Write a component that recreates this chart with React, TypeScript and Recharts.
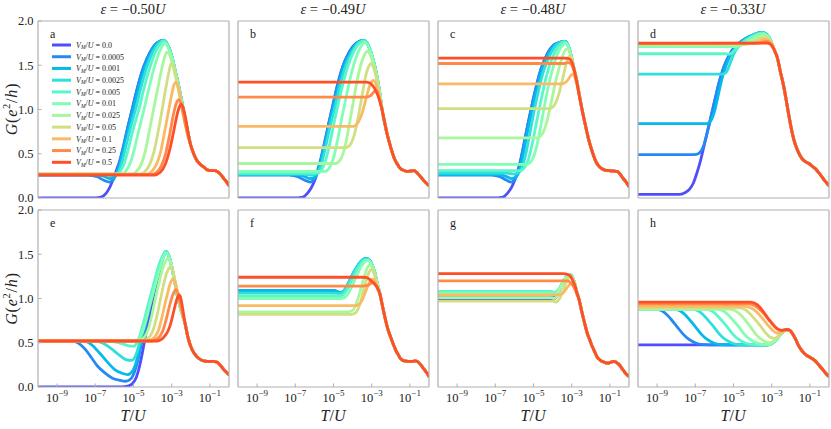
import React from 'react';
import { LineChart, Line, XAxis, YAxis } from 'recharts';

type P = [number, number][];

const VM_LABELS = ['0.0', '0.0005', '0.001', '0.0025', '0.005', '0.01', '0.025', '0.05', '0.1', '0.25', '0.5'];
const COLORS = ['#4d4ffc', '#2489f5', '#05baea', '#2edfdb', '#57f7c9', '#80ffb4', '#a8f79c', '#d1df82', '#faba65', '#ff8947', '#ff4f28'];
const EPS_TITLES = ['\u22120.50', '\u22120.49', '\u22120.48', '\u22120.33'];
const PANEL_LETTERS = ['a', 'b', 'c', 'd', 'e', 'f', 'g', 'h'];
const X_TICKS = [-9, -7, -5, -3, -1];
const Y_TICKS = [0, 0.5, 1, 1.5, 2];

// ---------- panel a ----------
const A_PATH: P = [[-3.15,1.7],[-2.95,1.56],[-2.8,1.42],[-2.68,1.31],[-2.5,1.12],[-2.33,0.93],[-2.18,0.77],[-2.02,0.61],[-1.85,0.5],[-1.67,0.42],[-1.5,0.38],[-1.32,0.35],[-1.15,0.32],[-0.97,0.31],[-0.75,0.31],[-0.62,0.3],[-0.45,0.27],[-0.27,0.22],[-0.12,0.18],[0,0.14]];
const A_HEADS: P[] = [
  [[-10,0],[-7.0,0],[-6.7,0.01],[-6.45,0.05],[-6.22,0.13],[-6.02,0.24],[-5.85,0.34],[-5.72,0.42],[-5.55,0.56],[-5.33,0.77],[-5.07,1.0],[-4.8,1.24],[-4.47,1.48],[-4.12,1.65],[-3.78,1.75],[-3.43,1.78]],
  [[-10,0.26],[-7.4,0.26],[-6.9,0.24],[-6.55,0.2],[-6.25,0.18],[-6.05,0.21],[-5.88,0.3],[-5.72,0.41],[-5.55,0.56],[-5.33,0.77],[-5.07,1.0],[-4.8,1.24],[-4.47,1.48],[-4.12,1.65],[-3.78,1.75],[-3.43,1.78]],
  [[-10,0.262],[-7.0,0.262],[-6.6,0.25],[-6.25,0.22],[-6.0,0.23],[-5.82,0.31],[-5.65,0.43],[-5.48,0.58],[-5.26,0.78],[-5.0,1.0],[-4.73,1.24],[-4.4,1.48],[-4.06,1.65],[-3.74,1.75],[-3.42,1.78]],
  [[-10,0.265],[-6.6,0.265],[-6.2,0.255],[-5.92,0.26],[-5.75,0.31],[-5.57,0.43],[-5.39,0.59],[-5.16,0.79],[-4.89,1.0],[-4.62,1.24],[-4.3,1.48],[-3.98,1.65],[-3.68,1.75],[-3.41,1.78]],
  [[-10,0.27],[-5.9,0.27],[-5.7,0.3],[-5.5,0.38],[-5.3,0.53],[-5.05,0.75],[-4.72,1.0],[-4.45,1.24],[-4.15,1.47],[-3.85,1.65],[-3.6,1.74],[-3.4,1.775]],
  [[-10,0.27],[-5.65,0.27],[-5.42,0.3],[-5.2,0.38],[-4.98,0.53],[-4.75,0.74],[-4.45,1.0],[-4.18,1.25],[-3.92,1.47],[-3.68,1.63],[-3.48,1.72],[-3.33,1.75],[-3.18,1.7]],
  [[-10,0.27],[-5.1,0.27],[-4.85,0.3],[-4.6,0.38],[-4.38,0.53],[-4.17,0.76],[-3.95,1.0],[-3.72,1.25],[-3.52,1.46],[-3.36,1.6],[-3.24,1.65],[-3.1,1.61],[-2.95,1.5],[-2.8,1.37],[-2.65,1.22],[-2.5,1.05],[-2.35,0.88],[-2.18,0.74]],
  [[-10,0.27],[-4.65,0.27],[-4.4,0.3],[-4.15,0.38],[-3.92,0.53],[-3.7,0.76],[-3.5,1.0],[-3.32,1.23],[-3.15,1.42],[-3.03,1.52],[-2.92,1.5],[-2.8,1.4],[-2.65,1.24],[-2.5,1.06],[-2.35,0.89],[-2.2,0.75]],
  [[-10,0.27],[-4.3,0.27],[-4.05,0.3],[-3.8,0.38],[-3.58,0.52],[-3.38,0.74],[-3.15,1.0],[-3.0,1.17],[-2.88,1.28],[-2.8,1.31],[-2.72,1.29],[-2.6,1.2],[-2.47,1.05],[-2.34,0.9],[-2.2,0.76]],
  [[-10,0.265],[-4.05,0.265],[-3.8,0.29],[-3.55,0.36],[-3.32,0.5],[-3.12,0.7],[-2.95,0.9],[-2.85,1.0],[-2.74,1.08],[-2.63,1.11],[-2.54,1.08],[-2.42,0.98],[-2.28,0.83],[-2.15,0.7]],
  [[-10,0.26],[-3.9,0.26],[-3.6,0.29],[-3.32,0.39],[-3.1,0.55],[-2.89,0.76],[-2.72,0.94],[-2.6,1.03],[-2.5,1.06],[-2.4,1.02],[-2.28,0.91],[-2.15,0.75]],
];

// ---------- panel b ----------
const B_PATH: P = [[-3.15,1.71],[-2.95,1.58],[-2.8,1.45],[-2.68,1.32],[-2.56,1.16],[-2.45,0.99],[-2.3,0.83],[-2.19,0.72],[-2.0,0.57],[-1.84,0.46],[-1.65,0.38],[-1.49,0.33],[-1.3,0.31],[-1.14,0.3],[-0.95,0.305],[-0.79,0.31],[-0.6,0.28],[-0.44,0.24],[-0.2,0.18],[0,0.14]];
const B_HEADS: P[] = [
  [[-10,0],[-6.9,0],[-6.6,0.01],[-6.38,0.05],[-6.18,0.11],[-6.0,0.19],[-5.82,0.3],[-5.65,0.44],[-5.45,0.64],[-5.25,0.84],[-5.05,1.03],[-4.82,1.25],[-4.52,1.48],[-4.17,1.65],[-3.8,1.75],[-3.43,1.78]],
  [[-10,0.26],[-7.3,0.26],[-6.85,0.24],[-6.5,0.2],[-6.22,0.18],[-6.02,0.21],[-5.85,0.3],[-5.67,0.44],[-5.45,0.64],[-5.25,0.84],[-5.05,1.03],[-4.82,1.25],[-4.52,1.48],[-4.17,1.65],[-3.8,1.75],[-3.43,1.78]],
  [[-10,0.265],[-7.0,0.265],[-6.6,0.25],[-6.25,0.22],[-6.0,0.23],[-5.8,0.31],[-5.62,0.45],[-5.4,0.65],[-5.2,0.85],[-5.0,1.03],[-4.76,1.25],[-4.46,1.48],[-4.1,1.65],[-3.75,1.75],[-3.42,1.78]],
  [[-10,0.27],[-6.6,0.27],[-6.2,0.26],[-5.92,0.27],[-5.73,0.32],[-5.55,0.45],[-5.34,0.65],[-5.13,0.85],[-4.92,1.03],[-4.68,1.25],[-4.38,1.48],[-4.03,1.65],[-3.7,1.75],[-3.41,1.78]],
  [[-10,0.28],[-5.85,0.28],[-5.65,0.31],[-5.45,0.4],[-5.24,0.57],[-5.02,0.8],[-4.8,1.02],[-4.55,1.25],[-4.26,1.48],[-3.95,1.65],[-3.64,1.75],[-3.4,1.775]],
  [[-10,0.3],[-5.45,0.3],[-5.22,0.34],[-5.0,0.45],[-4.78,0.66],[-4.55,0.92],[-4.3,1.18],[-4.05,1.42],[-3.8,1.6],[-3.57,1.71],[-3.35,1.76],[-3.18,1.72]],
  [[-10,0.39],[-4.9,0.39],[-4.65,0.43],[-4.42,0.56],[-4.2,0.8],[-3.97,1.08],[-3.75,1.34],[-3.52,1.54],[-3.35,1.63],[-3.23,1.66],[-3.1,1.63],[-2.95,1.54],[-2.8,1.41],[-2.68,1.29],[-2.56,1.15]],
  [[-10,0.57],[-4.35,0.57],[-4.1,0.61],[-3.88,0.74],[-3.66,0.97],[-3.45,1.22],[-3.27,1.42],[-3.12,1.5],[-3.03,1.52],[-2.93,1.49],[-2.8,1.4],[-2.68,1.28],[-2.56,1.14]],
  [[-10,0.81],[-3.95,0.81],[-3.72,0.85],[-3.5,0.96],[-3.3,1.12],[-3.12,1.26],[-2.98,1.32],[-2.9,1.33],[-2.8,1.3],[-2.68,1.22],[-2.56,1.1]],
  [[-10,1.14],[-3.35,1.14],[-3.1,1.15],[-2.95,1.18],[-2.83,1.21],[-2.74,1.21],[-2.65,1.16],[-2.56,1.09]],
  [[-10,1.31],[-3.3,1.31],[-3.1,1.3],[-2.95,1.27],[-2.8,1.22],[-2.68,1.16],[-2.56,1.08]],
];

// ---------- panel c ----------
const C_PATH: P = [[-3.15,1.7],[-3.0,1.58],[-2.88,1.46],[-2.71,1.3],[-2.58,1.14],[-2.45,0.99],[-2.28,0.82],[-2.1,0.65],[-1.92,0.52],[-1.75,0.42],[-1.58,0.36],[-1.41,0.33],[-1.25,0.315],[-1.06,0.31],[-0.85,0.305],[-0.62,0.3],[-0.47,0.27],[-0.3,0.22],[-0.15,0.18],[0,0.13]];
const C_HEADS: P[] = [
  [[-10,0],[-6.9,0],[-6.6,0.01],[-6.38,0.05],[-6.15,0.12],[-5.95,0.22],[-5.78,0.34],[-5.6,0.5],[-5.38,0.74],[-5.15,0.98],[-4.9,1.22],[-4.6,1.46],[-4.25,1.64],[-3.85,1.74],[-3.33,1.77]],
  [[-10,0.26],[-7.2,0.26],[-6.75,0.24],[-6.4,0.2],[-6.17,0.18],[-5.98,0.21],[-5.8,0.3],[-5.62,0.48],[-5.38,0.74],[-5.15,0.98],[-4.9,1.22],[-4.6,1.46],[-4.25,1.64],[-3.85,1.74],[-3.33,1.77]],
  [[-10,0.265],[-6.9,0.265],[-6.5,0.25],[-6.15,0.22],[-5.9,0.24],[-5.72,0.32],[-5.55,0.48],[-5.32,0.74],[-5.09,0.98],[-4.84,1.22],[-4.54,1.46],[-4.19,1.64],[-3.8,1.74],[-3.33,1.77]],
  [[-10,0.28],[-6.4,0.28],[-6.0,0.27],[-5.75,0.29],[-5.57,0.36],[-5.4,0.5],[-5.2,0.72],[-4.98,0.97],[-4.74,1.21],[-4.45,1.45],[-4.1,1.63],[-3.73,1.74],[-3.34,1.77]],
  [[-10,0.31],[-5.7,0.31],[-5.48,0.34],[-5.25,0.45],[-5.04,0.64],[-4.82,0.88],[-4.58,1.13],[-4.32,1.38],[-4.02,1.58],[-3.7,1.71],[-3.36,1.765]],
  [[-10,0.38],[-5.35,0.38],[-5.1,0.42],[-4.86,0.56],[-4.63,0.8],[-4.4,1.07],[-4.15,1.33],[-3.9,1.53],[-3.65,1.67],[-3.45,1.73],[-3.3,1.75],[-3.16,1.7]],
  [[-10,0.68],[-4.8,0.68],[-4.55,0.72],[-4.32,0.85],[-4.1,1.05],[-3.88,1.28],[-3.65,1.48],[-3.45,1.62],[-3.3,1.68],[-3.18,1.68],[-3.05,1.61],[-2.92,1.5],[-2.8,1.39],[-2.68,1.27],[-2.58,1.14]],
  [[-10,1.01],[-4.15,1.01],[-3.9,1.05],[-3.68,1.17],[-3.47,1.35],[-3.28,1.52],[-3.14,1.6],[-3.04,1.6],[-2.93,1.52],[-2.8,1.4],[-2.68,1.27],[-2.58,1.14]],
  [[-10,1.29],[-3.5,1.29],[-3.3,1.31],[-3.15,1.35],[-3.02,1.39],[-2.94,1.4],[-2.85,1.37],[-2.74,1.29],[-2.62,1.18]],
  [[-10,1.52],[-3.4,1.52],[-3.2,1.53],[-3.05,1.52],[-2.93,1.47],[-2.82,1.39],[-2.71,1.29],[-2.6,1.17]],
  [[-10,1.58],[-3.35,1.58],[-3.15,1.575],[-3.0,1.54],[-2.87,1.45],[-2.75,1.33],[-2.62,1.17]],
];

// ---------- panel d ----------
const D_PATH: P = [[-3.15,1.82],[-2.98,1.74],[-2.84,1.66],[-2.71,1.59],[-2.55,1.43],[-2.36,1.25],[-2.22,1.08],[-2.1,0.93],[-1.97,0.78],[-1.84,0.66],[-1.67,0.55],[-1.49,0.47],[-1.3,0.42],[-1.06,0.39],[-0.88,0.36],[-0.71,0.33],[-0.55,0.29],[-0.44,0.26],[-0.2,0.19],[0,0.14]];
const D_HEADS: P[] = [
  [[-10,0.04],[-7.85,0.04],[-7.55,0.06],[-7.3,0.1],[-7.1,0.17],[-6.92,0.28],[-6.73,0.42],[-6.55,0.58],[-6.38,0.74],[-6.2,0.9],[-6.03,1.06],[-5.85,1.22],[-5.68,1.36],[-5.5,1.48],[-5.3,1.58],[-5.1,1.66],[-4.85,1.72],[-4.55,1.77],[-4.25,1.81],[-3.9,1.85],[-3.55,1.87],[-3.35,1.86]],
  [[-10,0.49],[-7.05,0.49],[-6.85,0.5],[-6.7,0.53],[-6.55,0.6],[-6.42,0.7],[-6.28,0.82],[-6.12,0.97],[-5.96,1.12],[-5.8,1.27],[-5.63,1.4],[-5.45,1.51],[-5.26,1.6],[-5.06,1.67],[-4.83,1.73],[-4.53,1.78],[-4.23,1.82],[-3.88,1.85],[-3.53,1.87],[-3.34,1.86]],
  [[-10,0.84],[-6.45,0.84],[-6.27,0.85],[-6.12,0.9],[-5.98,0.99],[-5.84,1.12],[-5.7,1.26],[-5.55,1.39],[-5.38,1.5],[-5.2,1.6],[-5.0,1.67],[-4.78,1.73],[-4.5,1.78],[-4.2,1.82],[-3.85,1.85],[-3.52,1.87],[-3.33,1.86]],
  [[-10,1.4],[-5.6,1.4],[-5.44,1.41],[-5.3,1.45],[-5.16,1.53],[-5.0,1.62],[-4.82,1.69],[-4.6,1.74],[-4.35,1.79],[-4.05,1.83],[-3.75,1.86],[-3.48,1.87],[-3.3,1.855]],
  [[-10,1.63],[-5.45,1.63],[-5.25,1.625],[-5.08,1.64],[-4.9,1.68],[-4.7,1.73],[-4.45,1.77],[-4.15,1.81],[-3.85,1.84],[-3.6,1.86],[-3.4,1.86],[-3.26,1.84]],
  [[-10,1.71],[-4.95,1.71],[-4.72,1.715],[-4.5,1.74],[-4.25,1.78],[-3.95,1.82],[-3.65,1.85],[-3.45,1.855],[-3.28,1.84]],
  [[-10,1.73],[-4.55,1.73],[-4.28,1.745],[-4.0,1.78],[-3.72,1.82],[-3.48,1.84],[-3.3,1.835],[-3.18,1.81]],
  [[-10,1.74],[-4.25,1.74],[-3.98,1.755],[-3.7,1.79],[-3.45,1.815],[-3.28,1.81],[-3.15,1.79]],
  [[-10,1.745],[-3.95,1.745],[-3.68,1.765],[-3.43,1.79],[-3.26,1.79],[-3.12,1.77]],
  [[-10,1.745],[-3.65,1.75],[-3.42,1.765],[-3.25,1.77],[-3.1,1.75],[-2.98,1.71]],
  [[-10,1.75],[-3.25,1.75],[-3.08,1.74],[-2.95,1.71],[-2.84,1.66]],
];

// ---------- panel e ----------
const E_PATH: P = [[-3.15,1.48],[-3.0,1.36],[-2.85,1.2],[-2.7,1.03],[-2.55,0.9],[-2.42,0.8],[-2.3,0.72],[-2.15,0.56],[-1.95,0.43],[-1.67,0.34],[-1.4,0.3],[-1.14,0.29],[-0.85,0.29],[-0.62,0.28],[-0.4,0.23],[-0.2,0.18],[0,0.14]];
const E_HEADS: P[] = [
  [[-10,0],[-5.6,0],[-5.3,0.01],[-5.05,0.04],[-4.85,0.11],[-4.7,0.22],[-4.56,0.36],[-4.42,0.52],[-4.26,0.7],[-4.08,0.9],[-3.9,1.08],[-3.7,1.26],[-3.52,1.41],[-3.38,1.5],[-3.3,1.53]],
  [[-10,0.52],[-8.2,0.52],[-7.85,0.49],[-7.5,0.42],[-7.2,0.33],[-6.9,0.24],[-6.5,0.16],[-6.1,0.1],[-5.7,0.075],[-5.42,0.065],[-5.15,0.09],[-4.95,0.17],[-4.76,0.31],[-4.6,0.47],[-4.45,0.62],[-4.28,0.78],[-4.1,0.95],[-3.9,1.12],[-3.7,1.28],[-3.52,1.42],[-3.38,1.5],[-3.3,1.53]],
  [[-10,0.52],[-7.6,0.52],[-7.2,0.48],[-6.8,0.39],[-6.4,0.29],[-6.0,0.2],[-5.6,0.155],[-5.3,0.14],[-5.05,0.18],[-4.86,0.28],[-4.7,0.42],[-4.54,0.58],[-4.38,0.73],[-4.2,0.9],[-4.0,1.07],[-3.8,1.24],[-3.6,1.39],[-3.44,1.48],[-3.32,1.53]],
  [[-10,0.52],[-7.0,0.52],[-6.6,0.495],[-6.2,0.44],[-5.8,0.37],[-5.4,0.31],[-5.1,0.3],[-4.9,0.35],[-4.73,0.46],[-4.57,0.6],[-4.4,0.74],[-4.22,0.9],[-4.02,1.07],[-3.82,1.24],[-3.62,1.39],[-3.45,1.48],[-3.32,1.53]],
  [[-10,0.52],[-6.4,0.52],[-6.0,0.51],[-5.6,0.49],[-5.25,0.465],[-5.0,0.46],[-4.82,0.5],[-4.64,0.6],[-4.46,0.74],[-4.27,0.9],[-4.06,1.07],[-3.85,1.24],[-3.65,1.39],[-3.47,1.48],[-3.32,1.53]],
  [[-10,0.52],[-4.95,0.52],[-4.75,0.54],[-4.55,0.61],[-4.36,0.74],[-4.16,0.91],[-3.95,1.08],[-3.75,1.24],[-3.56,1.38],[-3.42,1.47],[-3.3,1.51],[-3.2,1.5]],
  [[-10,0.52],[-4.75,0.52],[-4.55,0.54],[-4.38,0.58],[-4.22,0.66],[-4.05,0.8],[-3.86,0.99],[-3.66,1.18],[-3.48,1.33],[-3.32,1.42],[-3.2,1.45],[-3.06,1.41],[-2.92,1.28],[-2.78,1.12],[-2.62,0.96],[-2.46,0.83],[-2.32,0.73]],
  [[-10,0.52],[-4.5,0.52],[-4.3,0.54],[-4.12,0.58],[-3.96,0.65],[-3.8,0.78],[-3.62,0.96],[-3.44,1.14],[-3.28,1.28],[-3.15,1.34],[-3.06,1.36],[-2.95,1.32],[-2.82,1.2],[-2.68,1.04],[-2.52,0.89],[-2.38,0.77]],
  [[-10,0.52],[-4.25,0.52],[-4.02,0.54],[-3.84,0.58],[-3.68,0.65],[-3.52,0.78],[-3.35,0.94],[-3.18,1.09],[-3.04,1.19],[-2.92,1.22],[-2.82,1.18],[-2.7,1.08],[-2.56,0.94],[-2.42,0.81]],
  [[-10,0.52],[-4.0,0.52],[-3.78,0.54],[-3.6,0.58],[-3.44,0.65],[-3.28,0.77],[-3.12,0.91],[-2.96,1.03],[-2.86,1.08],[-2.78,1.1],[-2.68,1.06],[-2.56,0.96],[-2.42,0.83]],
  [[-10,0.52],[-3.75,0.52],[-3.52,0.54],[-3.35,0.58],[-3.2,0.63],[-3.05,0.72],[-2.9,0.85],[-2.76,0.97],[-2.66,1.03],[-2.6,1.04],[-2.52,1.0],[-2.42,0.88]],
];

// ---------- panel f ----------
const F_HUMP: P = [[-4.37,1.11],[-4.2,1.18],[-4.02,1.26],[-3.84,1.33],[-3.67,1.39],[-3.5,1.43],[-3.32,1.45],[-3.15,1.44],[-2.98,1.38],[-2.85,1.3],[-2.72,1.18]];
const F_PATH: P = [[-2.58,1.06],[-2.45,0.93],[-2.3,0.78],[-2.15,0.65],[-2.02,0.57],[-1.88,0.49],[-1.75,0.42],[-1.6,0.36],[-1.49,0.32],[-1.3,0.295],[-1.1,0.29],[-0.88,0.29],[-0.7,0.295],[-0.55,0.28],[-0.36,0.23],[-0.15,0.17],[0,0.12]];
const F_HEADS: P[] = [
  [[-10,1.09],[-5.0,1.09],[-4.85,1.08],[-4.72,1.065],[-4.55,1.07]],
  [[-10,1.088],[-4.97,1.088],[-4.82,1.078],[-4.7,1.066],[-4.53,1.072]],
  [[-10,1.09],[-4.94,1.09],[-4.8,1.08],[-4.68,1.068],[-4.52,1.074]],
  [[-10,1.06],[-4.9,1.06],[-4.72,1.055],[-4.55,1.065]],
  [[-10,1.03],[-4.75,1.03],[-4.55,1.035],[-4.38,1.07],[-4.2,1.14],[-4.0,1.23],[-3.82,1.31],[-3.64,1.37],[-3.46,1.42],[-3.3,1.44],[-3.15,1.435],[-2.98,1.38],[-2.85,1.3],[-2.72,1.18]],
  [[-10,1.0],[-4.6,1.0],[-4.42,1.01],[-4.24,1.05],[-4.05,1.13],[-3.86,1.22],[-3.67,1.31],[-3.5,1.38],[-3.33,1.42],[-3.2,1.43],[-3.07,1.41],[-2.94,1.36],[-2.82,1.28],[-2.7,1.17]],
  [[-10,0.85],[-4.2,0.85],[-3.98,0.87],[-3.78,0.96],[-3.58,1.1],[-3.4,1.24],[-3.24,1.34],[-3.12,1.38],[-3.0,1.36],[-2.88,1.29],[-2.77,1.2],[-2.67,1.12]],
  [[-10,0.82],[-4.05,0.82],[-3.83,0.84],[-3.63,0.93],[-3.45,1.07],[-3.28,1.21],[-3.13,1.3],[-3.02,1.33],[-2.92,1.31],[-2.81,1.24],[-2.7,1.15]],
  [[-10,0.92],[-3.85,0.92],[-3.65,0.935],[-3.48,0.99],[-3.32,1.08],[-3.17,1.16],[-3.03,1.21],[-2.92,1.22],[-2.82,1.19],[-2.72,1.13]],
  [[-10,1.14],[-3.5,1.14],[-3.28,1.145],[-3.1,1.16],[-2.96,1.18],[-2.86,1.18],[-2.77,1.15],[-2.68,1.1]],
  [[-10,1.24],[-3.45,1.24],[-3.25,1.235],[-3.08,1.21],[-2.93,1.18],[-2.8,1.15],[-2.7,1.12]],
];

// ---------- panel g ----------
const G_HUMP: P = [[-3.6,1.12],[-3.45,1.19],[-3.3,1.24],[-3.15,1.27],[-3.02,1.26],[-2.9,1.21],[-2.77,1.11]];
const G_PATH: P = [[-2.63,1.0],[-2.45,0.83],[-2.3,0.7],[-2.19,0.61],[-2.05,0.53],[-1.93,0.46],[-1.8,0.4],[-1.67,0.34],[-1.55,0.31],[-1.41,0.29],[-1.25,0.275],[-1.1,0.27],[-0.95,0.28],[-0.8,0.29],[-0.67,0.28],[-0.55,0.26],[-0.4,0.22],[-0.2,0.16],[0,0.12]];
const G_HEADS: P[] = [
  [[-10,1.0],[-4.3,1.0],[-4.05,0.99],[-3.88,1.0],[-3.74,1.04]],
  [[-10,1.02],[-4.25,1.02],[-4.0,1.01],[-3.85,1.02],[-3.73,1.05]],
  [[-10,1.05],[-4.2,1.05],[-3.97,1.04],[-3.83,1.05],[-3.72,1.07]],
  [[-10,1.07],[-4.15,1.07],[-3.95,1.06],[-3.82,1.07],[-3.72,1.09]],
  [[-10,1.08],[-4.1,1.08],[-3.92,1.07],[-3.8,1.08],[-3.71,1.1]],
  [[-10,1.06],[-4.1,1.06],[-3.92,1.05],[-3.8,1.06],[-3.71,1.09]],
  [[-10,1.01],[-4.1,1.01],[-3.92,1.0],[-3.8,1.02],[-3.7,1.06]],
  [[-10,0.97],[-4.0,0.97],[-3.82,0.96],[-3.66,0.99],[-3.5,1.06],[-3.35,1.15],[-3.2,1.22],[-3.06,1.26],[-2.94,1.23],[-2.82,1.15],[-2.72,1.06]],
  [[-10,1.04],[-3.8,1.04],[-3.6,1.045],[-3.42,1.07],[-3.25,1.12],[-3.1,1.16],[-2.97,1.17],[-2.86,1.13],[-2.74,1.06]],
  [[-10,1.2],[-3.5,1.2],[-3.25,1.2],[-3.06,1.18],[-2.92,1.14],[-2.8,1.09],[-2.72,1.04]],
  [[-10,1.28],[-3.45,1.28],[-3.2,1.27],[-3.06,1.25],[-2.94,1.2],[-2.82,1.14],[-2.72,1.06]],
];

// ---------- panel h ----------
const H_LOW: P = [[-3.1,0.48],[-2.89,0.51],[-2.63,0.57],[-2.4,0.625],[-2.2,0.65]];
const H_PATH: P = [[-2.05,0.64],[-1.9,0.6],[-1.75,0.54],[-1.6,0.47],[-1.45,0.42],[-1.3,0.38],[-1.12,0.35],[-0.95,0.33],[-0.8,0.31],[-0.65,0.28],[-0.5,0.24],[-0.3,0.19],[-0.15,0.15],[0,0.12]];
const H_HEADS: P[] = [
  [[-10,0.475],[-3.4,0.475]],
  [[-10,0.88],[-9.05,0.88],[-8.75,0.86],[-8.5,0.82],[-8.25,0.76],[-7.95,0.68],[-7.65,0.6],[-7.35,0.54],[-6.95,0.495],[-6.55,0.478],[-6.1,0.475],[-3.4,0.475]],
  [[-10,0.88],[-8.1,0.88],[-7.8,0.86],[-7.55,0.82],[-7.3,0.76],[-6.99,0.68],[-6.7,0.6],[-6.4,0.54],[-6.0,0.495],[-5.6,0.478],[-5.15,0.475],[-3.4,0.475]],
  [[-10,0.88],[-7.15,0.88],[-6.85,0.86],[-6.6,0.82],[-6.35,0.76],[-6.03,0.68],[-5.75,0.6],[-5.45,0.54],[-5.05,0.495],[-4.65,0.478],[-4.2,0.475],[-3.4,0.475]],
  [[-10,0.88],[-6.45,0.88],[-6.15,0.86],[-5.9,0.82],[-5.65,0.76],[-5.33,0.68],[-5.05,0.6],[-4.75,0.54],[-4.35,0.495],[-3.95,0.478],[-3.5,0.475]],
  [[-10,0.88],[-5.85,0.88],[-5.55,0.86],[-5.3,0.82],[-5.05,0.76],[-4.72,0.68],[-4.45,0.6],[-4.15,0.54],[-3.75,0.495],[-3.4,0.48]],
  [[-10,0.88],[-5.2,0.88],[-4.9,0.86],[-4.65,0.82],[-4.4,0.76],[-4.11,0.68],[-3.85,0.6],[-3.55,0.54],[-3.25,0.505],[-3.05,0.5]],
  [[-10,0.895],[-4.7,0.895],[-4.4,0.875],[-4.15,0.83],[-3.9,0.77],[-3.59,0.69],[-3.35,0.62],[-3.1,0.565],[-2.85,0.55],[-2.63,0.58],[-2.4,0.625],[-2.2,0.65]],
  [[-10,0.91],[-4.4,0.91],[-4.05,0.89],[-3.8,0.85],[-3.5,0.78],[-3.2,0.7],[-2.95,0.64],[-2.72,0.61],[-2.5,0.62],[-2.3,0.64],[-2.2,0.65]],
  [[-10,0.94],[-4.2,0.94],[-3.9,0.92],[-3.6,0.87],[-3.3,0.8],[-3.0,0.72],[-2.75,0.66],[-2.5,0.64],[-2.3,0.645],[-2.2,0.65]],
  [[-10,0.96],[-4.1,0.96],[-3.76,0.93],[-3.5,0.87],[-3.24,0.79],[-2.98,0.72],[-2.71,0.66],[-2.45,0.64],[-2.2,0.65]],
];

function join(head: P, ...tails: P[]): P {
  let out = head.slice();
  for (const t of tails) {
    const last = out[out.length - 1][0];
    out = out.concat(t.filter((p) => p[0] > last + 0.06));
  }
  return out;
}

const PANELS: P[][] = [
  A_HEADS.map((h) => join(h, A_PATH)),
  B_HEADS.map((h) => join(h, B_PATH)),
  C_HEADS.map((h) => join(h, C_PATH)),
  D_HEADS.map((h) => join(h, D_PATH)),
  E_HEADS.map((h) => join(h, E_PATH)),
  F_HEADS.map((h) => join(h, F_HUMP, F_PATH)),
  G_HEADS.map((h) => join(h, G_HUMP, G_PATH)),
  H_HEADS.map((h) => join(h, H_LOW, H_PATH)),
];

const FONT = "'Liberation Serif', 'Times New Roman', serif";
const FRAME = '#b0b0b0';
const TEXT = '#222';
const COL_LEFT = [37.5, 237.5, 437.5, 637.5];
const ROW_TOP = [20.5, 210];
const PW = 191;
const PH = 177;
const ML = 40, MR = 10, MT = 10, MB = 30;
const AX = 2; // reserved axis thickness (Recharts skips axes of size 0)

function PowTick(props: any) {
  const { x, y, payload } = props;
  const v = payload.value as number;
  return (
    <text x={x} y={y + 18} textAnchor="middle" fontFamily={FONT} fontSize={12.5} fill={TEXT}>
      10<tspan dy={-5.5} fontSize={9}>{'\u2212' + Math.abs(v)}</tspan>
    </text>
  );
}

function Panel({ idx }: { idx: number }) {
  const col = idx % 4;
  const row = Math.floor(idx / 4);
  const curves = PANELS[idx];
  const axisLine = { stroke: FRAME, strokeWidth: 1.2 };
  const tickLine = { stroke: FRAME, strokeWidth: 1 };
  return (
    <div style={{ position: 'absolute', left: COL_LEFT[col] - ML, top: ROW_TOP[row] - MT }}>
      <LineChart width={PW + ML + MR} height={PH + MT + MB}
        margin={{ top: MT - AX, right: MR - AX, bottom: MB - AX, left: ML - AX }}>
        <XAxis xAxisId="b" dataKey="x" type="number" domain={[-10, 0]} ticks={X_TICKS} interval={0} height={AX}
          orientation="bottom" allowDataOverflow axisLine={axisLine}
          tickLine={tickLine} tickSize={-3.5} tickMargin={0}
          tick={row === 1 ? <PowTick /> : false} />
        <XAxis xAxisId="t" dataKey="x" type="number" domain={[-10, 0]} ticks={X_TICKS} interval={0} height={AX}
          orientation="top" allowDataOverflow axisLine={axisLine}
          tickLine={tickLine} tickSize={-3.5} tick={false} />
        <YAxis yAxisId="l" type="number" domain={[0, 2]} ticks={Y_TICKS} interval={0} width={AX}
          orientation="left" allowDataOverflow axisLine={axisLine}
          tickLine={tickLine} tickSize={-3.5} tickMargin={8}
          tickFormatter={(v: number) => v.toFixed(1)}
          tick={col === 0 ? { fontSize: 12.5, fill: TEXT, fontFamily: FONT } : false} />
        <YAxis yAxisId="r" type="number" domain={[0, 2]} ticks={Y_TICKS} interval={0} width={AX}
          orientation="right" allowDataOverflow axisLine={axisLine}
          tickLine={tickLine} tickSize={-3.5} tick={false} />
        {curves.map((c, i) => (
          <Line key={i} xAxisId="b" yAxisId="l" data={c.map(([x, y]) => ({ x, y }))} dataKey="y"
            type="monotone" stroke={COLORS[i]} strokeWidth={2.8} dot={false} activeDot={false}
            isAnimationActive={false} strokeLinecap="round" strokeLinejoin="round" />
        ))}
      </LineChart>
    </div>
  );
}

function Overlay() {
  return (
    <svg width={831} height={429} style={{ position: 'absolute', left: 0, top: 0, pointerEvents: 'none' }}>
      {EPS_TITLES.map((t, i) => (
        <text key={'t' + i} x={COL_LEFT[i] + PW / 2} y={13.5} textAnchor="middle" fontFamily={FONT} fontSize={14.5} fill={TEXT}>
          <tspan fontStyle="italic">{'\u03b5'}</tspan>{' = ' + t}<tspan fontStyle="italic">U</tspan>
        </text>
      ))}
      {PANEL_LETTERS.map((l, i) => (
        <text key={'l' + i} x={COL_LEFT[i % 4] + 12.5} y={ROW_TOP[Math.floor(i / 4)] + 17} fontFamily={FONT} fontSize={12} fill={TEXT}>{l}</text>
      ))}
      {ROW_TOP.map((top, r) => {
        const cy = top + PH / 2;
        return (
          <text key={'y' + r} x={11} y={cy} transform={`rotate(-90 11 ${cy})`} textAnchor="middle" dominantBaseline="central"
            fontFamily={FONT} fontSize={16} letterSpacing={0.8} fill={TEXT}>
            <tspan fontStyle="italic">G</tspan>(<tspan fontStyle="italic">e</tspan><tspan dy={-5.5} fontSize={10.5}>2</tspan><tspan dy={5.5}>/</tspan><tspan fontStyle="italic">h</tspan>)
          </text>
        );
      })}
      {COL_LEFT.map((left, i) => (
        <text key={'x' + i} x={left + PW / 2} y={421} textAnchor="middle" fontFamily={FONT} fontSize={16} fill={TEXT}>
          <tspan fontStyle="italic">T</tspan>/<tspan fontStyle="italic">U</tspan>
        </text>
      ))}
      {VM_LABELS.map((lab, i) => {
        const y = 45 + i * 11.73;
        return (
          <g key={'g' + i}>
            <line x1={52} x2={71} y1={y} y2={y} stroke={COLORS[i]} strokeWidth={3} />
            <text x={76} y={y + 2.8} fontFamily={FONT} fontSize={8} fill={TEXT}>
              <tspan fontStyle="italic">V</tspan><tspan fontStyle="italic" fontSize={5.5} dy={1.5}>M</tspan><tspan dy={-1.5}>/</tspan><tspan fontStyle="italic">U</tspan>{' = ' + lab}
            </text>
          </g>
        );
      })}
    </svg>
  );
}

export default function App() {
  return (
    <div style={{ position: 'absolute', left: 0, top: 0, width: 831, height: 429, background: '#fff' }}>
      {[0, 1, 2, 3, 4, 5, 6, 7].map((i) => <Panel key={i} idx={i} />)}
      <Overlay />
    </div>
  );
}
